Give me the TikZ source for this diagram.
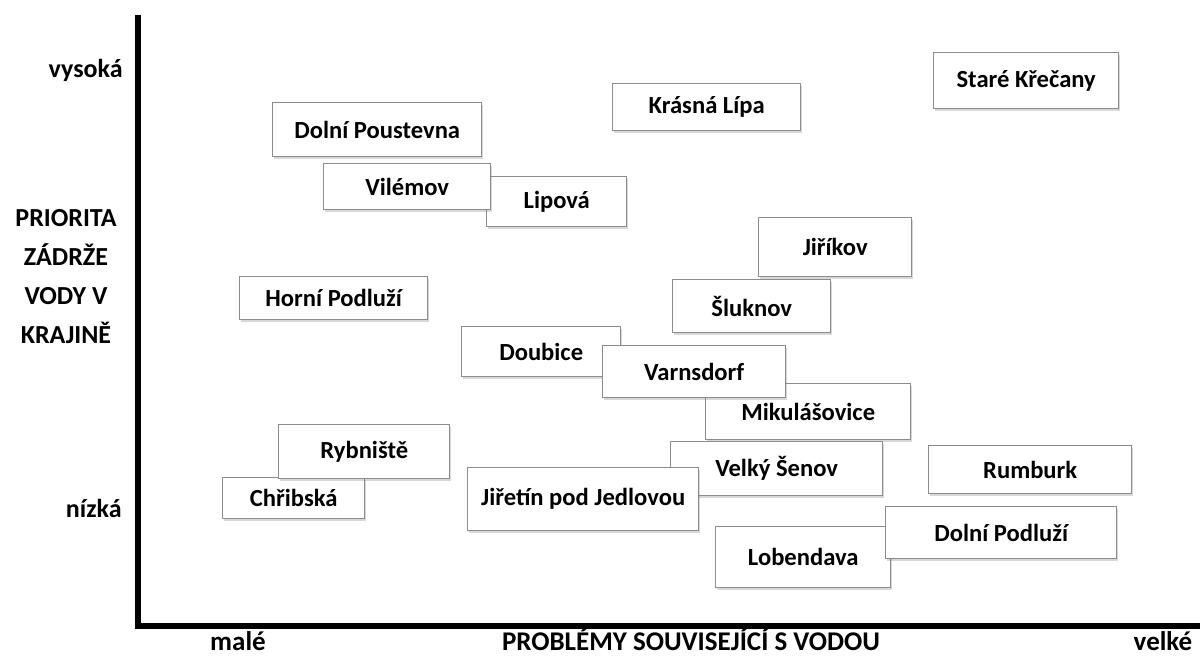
\documentclass[tikz,border=0pt]{standalone}
\usepackage{fontspec}
\setmainfont{Carlito}
\usetikzlibrary{shadows}
\begin{document}
\begin{tikzpicture}[x=0.5pt,y=-0.5pt,
  cbox/.style={draw=black!45, line width=0.7pt, fill=white, anchor=north west, inner sep=0pt,
    font=\fontsize{12.3}{14}\selectfont\bfseries,
    drop shadow={opacity=0.3, shadow xshift=0.8pt, shadow yshift=-1.3pt}},
  axlab/.style={font=\fontsize{13}{19.5}\selectfont\bfseries, inner sep=0pt},
  bottomlab/.style={font=\fontsize{13.5}{16}\selectfont\bfseries, inner sep=0pt, anchor=base}]
\useasboundingbox (0,0) rectangle (1200,656);
\fill[white] (0,0) rectangle (1200,656);
% axes
\coordinate (ytop) at (138,15);
\coordinate (orig) at (138,626);
\coordinate (xend) at (1200,626);
\draw[line width=2.8pt, line join=miter] (ytop) -- (orig) -- (xend);
% axis labels
\node[axlab, anchor=east] (vys) at (123,70) {vysoká};
\node[axlab, anchor=east] (niz) at (122,508) {nízká};
\node[axlab, align=center] (prio) at (66,277) {PRIORITA\\ZÁDRŽE\\VODY V\\KRAJINĚ};
\node[bottomlab] (male) at (238,651) {malé};
\node[bottomlab] (prob) at (691,651) {PROBLÉMY SOUVISEJÍCÍ S VODOU};
\node[bottomlab] (velke) at (1163,651) {velké};
% boxes
\node[cbox, minimum width=92.5pt, minimum height=28pt] (stare) at (933,52) {Staré Křečany};
\node[cbox, minimum width=94pt, minimum height=23.5pt] (krasna) at (612,83) {Krásná Lípa};
\node[cbox, minimum width=104.5pt, minimum height=27pt] (dpoust) at (272,102) {Dolní Poustevna};
\node[cbox, minimum width=70pt, minimum height=25pt] (lipova) at (486,176) {Lipová};
\node[cbox, minimum width=83.5pt, minimum height=23pt] (vilemov) at (323,163) {Vilémov};
\node[cbox, minimum width=76.5pt, minimum height=29.5pt] (jirikov) at (758,217) {Jiříkov};
\node[cbox, minimum width=94pt, minimum height=21.5pt] (hpodl) at (239,276) {Horní Podluží};
\node[cbox, minimum width=79pt, minimum height=26.5pt] (sluknov) at (672,279) {Šluknov};
\node[cbox, minimum width=79.5pt, minimum height=25pt] (doubice) at (461,326) {Doubice};
\node[cbox, minimum width=102.5pt, minimum height=28pt] (mikul) at (705,383) {Mikulášovice};
\node[cbox, minimum width=91.5pt, minimum height=26pt] (varns) at (602,345) {Varnsdorf};
\node[cbox, minimum width=71pt, minimum height=20.5pt] (chrib) at (222,477) {Chřibská};
\node[cbox, minimum width=85.5pt, minimum height=27pt] (rybn) at (278,424) {Rybniště};
\node[cbox, minimum width=106pt, minimum height=27pt] (vsenov) at (670,441) {Velký Šenov};
\node[cbox, minimum width=101.5pt, minimum height=24pt] (rumburk) at (928,445) {Rumburk};
\node[cbox, minimum width=115.5pt, minimum height=31.5pt] (jiretin) at (467,467) {Jiřetín pod Jedlovou};
\node[cbox, minimum width=87.5pt, minimum height=30.5pt] (loben) at (715,526) {Lobendava};
\node[cbox, minimum width=115.5pt, minimum height=26pt] (dpodl) at (885,506) {Dolní Podluží};
\end{tikzpicture}
\end{document}
